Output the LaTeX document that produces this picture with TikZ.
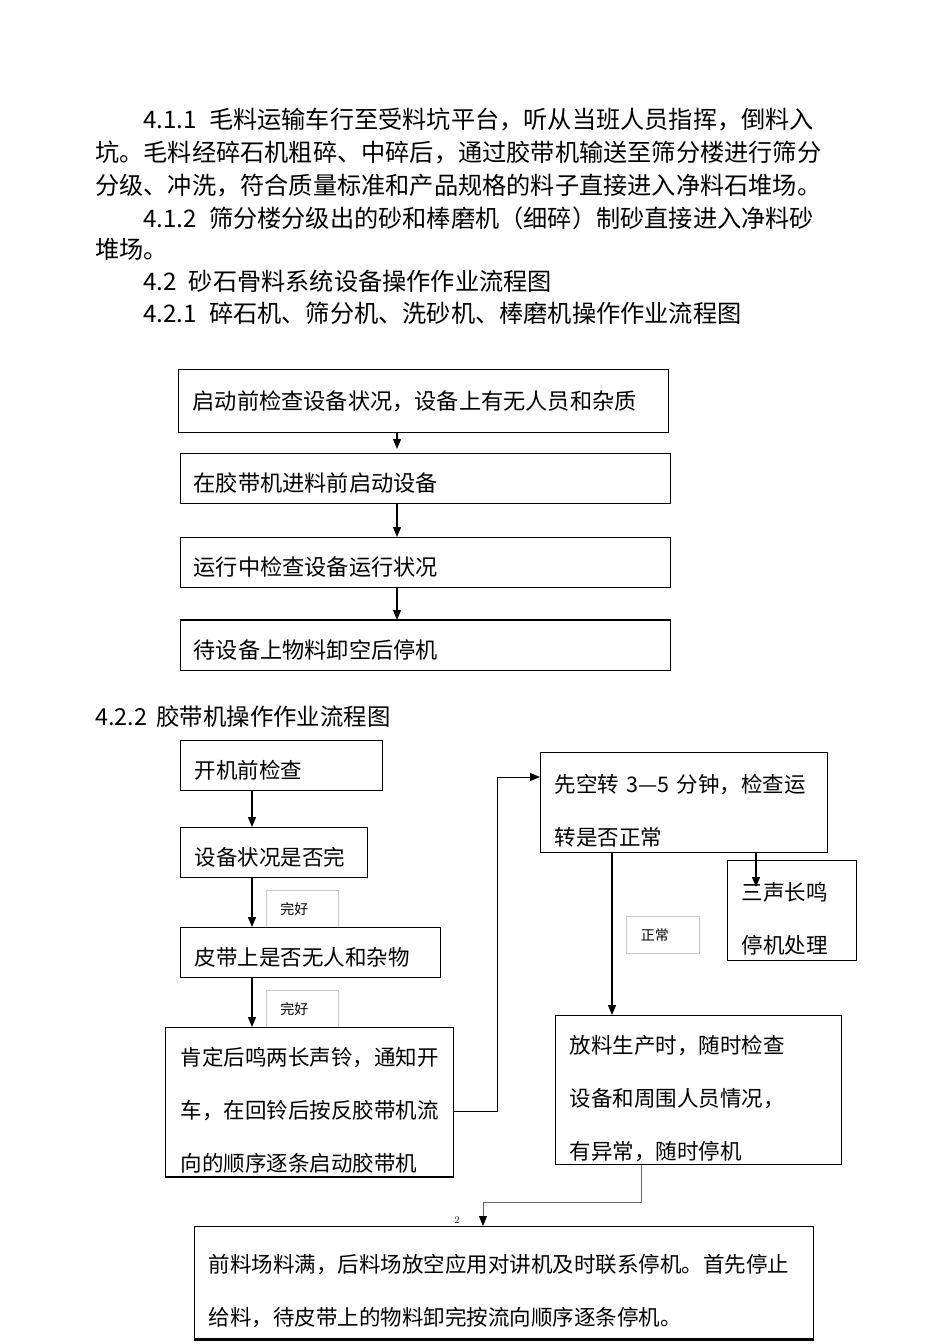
\documentclass[tikz,border=0pt]{standalone}
\usepackage{fontspec}
\newfontfamily\cjk{Noto Sans CJK SC}
\usetikzlibrary{arrows.meta}
\begin{document}
\begin{tikzpicture}[x=1pt,y=-1pt,
	para/.style={anchor=west,inner sep=0pt,font=\cjk\fontsize{24.2}{28}\selectfont},
	box/.style={draw,line width=1.2pt,anchor=north west,inner xsep=14pt,inner ysep=0pt,align=left,font=\cjk\fontsize{21.5}{53}\selectfont},
	tall/.style={text height=35pt},
	low/.style={text height=28pt},
	tag/.style={draw=gray!45,line width=.7pt,anchor=north west,inner xsep=14pt,inner ysep=0pt,text width=44pt,minimum height=37pt,align=left,font=\cjk\fontsize{14}{16}\selectfont},
	arr/.style={-{Triangle[length=10pt,width=8pt,color=black]},line width=1.2pt}]
	\fill[white] (0,0) rectangle (950,1344);
	\useasboundingbox (0,0) rectangle (950,1344);
	% text above the charts
	\node[para] (p1) at (143,120) {4.1.1\hspace{0.5em}毛料运输车行至受料坑平台，听从当班人员指挥，倒料入};
	\node[para] (p2) at (95,153) {坑。毛料经碎石机粗碎、中碎后，通过胶带机输送至筛分楼进行筛分};
	\node[para] (p3) at (95,186) {分级、冲洗，符合质量标准和产品规格的料子直接进入净料石堆场。};
	\node[para] (p4) at (143,218) {4.1.2\hspace{0.5em}筛分楼分级出的砂和棒磨机（细碎）制砂直接进入净料砂};
	\node[para] (p5) at (95,249) {堆场。};
	\node[para] (p6) at (143,281) {4.2\hspace{0.5em}砂石骨料系统设备操作作业流程图};
	\node[para] (p7) at (143,313) {4.2.1\hspace{0.5em}碎石机、筛分机、洗砂机、棒磨机操作作业流程图};
	% chart 4.2.1
	\node[box,font=\cjk\fontsize{22.2}{26}\selectfont,minimum width=490,minimum height=63,text width=462pt] (s1) at (178,369) {启动前检查设备状况，设备上有无人员和杂质};
	\node[box,low,font=\cjk\fontsize{22.2}{26}\selectfont,inner xsep=13pt,minimum width=490,minimum height=50,text width=464pt] (s2) at (180,453) {在胶带机进料前启动设备};
	\node[box,low,font=\cjk\fontsize{22.2}{26}\selectfont,inner xsep=13pt,minimum width=490,minimum height=50,text width=464pt] (s3) at (180,537) {运行中检查设备运行状况};
	\node[box,low,font=\cjk\fontsize{22.2}{26}\selectfont,inner xsep=13pt,minimum width=490,minimum height=50,text width=464pt] (s4) at (180,620) {待设备上物料卸空后停机};
	\draw[line width=2.4pt] (s4.north west) -- (s4.north east);
	\coordinate (ax) at (397,0);
	\draw[arr,shorten >=4pt] (s1.south -| ax) -- (s2.north -| ax);
	\draw[arr] (s2.south -| ax) -- (s3.north -| ax);
	\draw[arr] (s3.south -| ax) -- (s4.north -| ax);
	% chart 4.2.2
	\node[para,font=\cjk\fontsize{23.4}{28}\selectfont] (h2) at (95,717) {4.2.2\hspace{0.4em}胶带机操作作业流程图};
	\node[tag] (t1) at (266,890) {完好};
	\node[tag] (t2) at (266,990) {完好};
	\node[tag,minimum width=73] (t3) at (626,916) {正常};
	\node[box,low,minimum width=202,minimum height=50,text width=174pt] (a) at (180,740) {开机前检查};
	\node[box,low,minimum width=187,minimum height=50,text width=159pt] (b) at (180,827) {设备状况是否完};
	\node[box,low,minimum width=260,minimum height=50,text width=232pt] (c) at (180,927) {皮带上是否无人和杂物};
	\node[box,tall,inner xsep=15pt,minimum width=288,minimum height=149,text width=258pt] (d) at (165,1027) {肯定后鸣两长声铃，通知开\\车，在回铃后按反胶带机流\\向的顺序逐条启动胶带机};
	\draw[line width=2.4pt] (d.south west) -- (d.south east);
	\node[box,tall,minimum width=287,minimum height=100,text width=259pt] (e) at (540,752) {先空转 3—5 分钟，检查运\\转是否正常};
	\node[box,tall,minimum width=129,minimum height=100,text width=101pt] (f) at (727,860) {三声长鸣\\停机处理};
	\node[box,tall,minimum width=286,minimum height=149,text width=258pt] (g) at (555,1015) {放料生产时，随时检查\\设备和周围人员情况，\\有异常，随时停机};
	\node[box,tall,minimum width=619,minimum height=112,text width=591pt] (h) at (194,1226) {前料场料满，后料场放空应用对讲机及时联系停机。首先停止\\给料，待皮带上的物料卸完按流向顺序逐条停机。};
	\draw[line width=2.6pt] (h.south west) -- (h.south east);
	\node[inner sep=0pt,font=\fontsize{10}{12}\selectfont] (pg) at (457,1220) {2};
	\coordinate (bx) at (252,0);
	\draw[arr] (a.south -| bx) -- (b.north -| bx);
	\draw[arr] (b.south -| bx) -- (c.north -| bx);
	\draw[arr] (c.south -| bx) -- (d.north -| bx);
	\coordinate (d1) at (453,1111);
	\coordinate (d2) at (497,777);
	\draw[arr,line width=1pt] (d.east |- d1) -- (d2 |- d1) -- (d2) -- (e.west |- d2);
	\coordinate (ex) at (756,887);
	\draw[arr] (e.south -| ex) -- (ex);
	\coordinate (gx) at (612,0);
	\draw[arr] (e.south -| gx) -- (g.north -| gx);
	\coordinate (g1) at (641,1202);
	\coordinate (g2) at (483,1202);
	\draw[arr,line width=1pt,draw=black!60] (g.south -| g1) -- (g1) -- (g2) -- (h.north -| g2);
\end{tikzpicture}
\end{document}
